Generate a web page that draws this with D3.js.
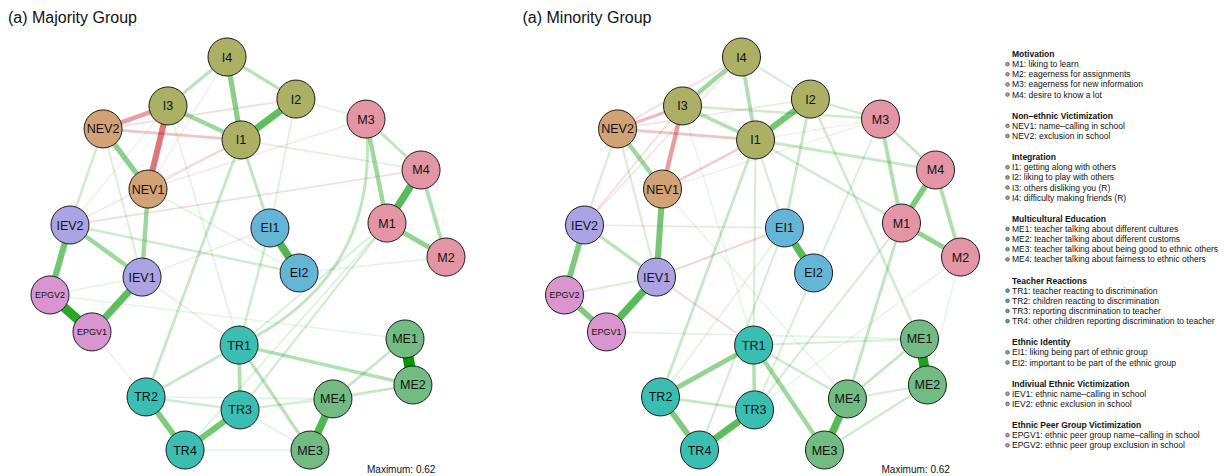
<!DOCTYPE html>
<html><head><meta charset="utf-8">
<script src="https://cdn.jsdelivr.net/npm/d3@7"></script>
<style>body{margin:0;background:#fff}svg{display:block}</style>
</head><body><svg id="c" width="1229" height="476"></svg>
<script>
// ---------------- DATA ----------------
const nodeIds   = ["M1","M2","M3","M4","NEV1","NEV2","I1","I2","I3","I4","ME1","ME2","ME3","ME4","TR1","TR2","TR3","TR4","EI1","EI2","IEV1","IEV2","EPGV1","EPGV2"];
const nodeGroup = [0,0,0,0,1,1,2,2,2,2,3,3,3,3,4,4,4,4,5,5,6,6,7,7];
// layout coordinates (same layout in both panels)
const layoutX = [0.702,1.0,0.596,0.874,-0.505,-0.732,-0.035,0.242,-0.404,-0.106,0.793,0.833,0.313,0.429,-0.045,-0.515,-0.040,-0.318,0.111,0.258,-0.535,-0.899,-0.788,-1.0];
const layoutY = [0.155,-0.018,0.684,0.425,0.328,0.634,0.578,0.786,0.751,1.0,-0.435,-0.669,-1.0,-0.740,-0.466,-0.730,-0.796,-1.0,0.130,-0.099,-0.120,0.145,-0.399,-0.211];

const groupNames  = ["Motivation","Non\u2013ethnic Victimization","Integration","Multicultural Education","Teacher Reactions","Ethnic Identity","Indiviual Ethnic Victimization","Ethnic Peer Group Victimization"];
const groupColors = ["#E495A5","#D2A277","#ABB065","#72BB83","#39BEB1","#64B5D6","#ACA4E2","#D995CF"];
const itemLabels = [
  ["M1: liking to learn","M2: eagerness for assignments","M3: eagerness for new information","M4: desire to know a lot"],
  ["NEV1: name\u2013calling in school","NEV2: exclusion in school"],
  ["I1: getting along with others","I2: liking to play with others","I3: others disliking you (R)","I4: difficulty making friends (R)"],
  ["ME1: teacher talking about different cultures","ME2: teacher talking about different customs","ME3: teacher talking about being good to ethnic others","ME4: teacher talking about fairness to ethnic others"],
  ["TR1: teacher reacting to discrimination","TR2: children reacting to discrimination","TR3: reporting discrimination to teacher","TR4: other children reporting discrimination to teacher"],
  ["EI1: liking being part of ethnic group","EI2: important to be part of the ethnic group"],
  ["IEV1: ethnic name\u2013calling in school","IEV2: ethnic exclusion in school"],
  ["EPGV1: ethnic peer group name\u2013calling in school","EPGV2: ethnic peer group exclusion in school"]
];

const panelTitles = ["(a) Majority Group","(a) Minority Group"];
const maxWeight = 0.62;

// edge lists: [from, to, partial correlation]
const edgesMajority = [
  ["ME1","ME2",0.62],["EPGV2","EPGV1",0.52],["EI1","EI2",0.42],["ME3","ME4",0.42],["M4","M1",0.40],
  ["I2","I1",0.38],["IEV1","EPGV1",0.38],["IEV2","EPGV2",0.33],["TR3","TR4",0.33],["TR2","TR4",0.30],
  ["I4","I1",0.27],["NEV2","NEV1",0.27],["M1","M2",0.25],["I3","I1",0.22],["IEV2","IEV1",0.22],
  ["M3","M1",0.22],["NEV1","IEV1",0.22],["M4","M2",0.18],["TR1","TR3",0.18],["TR1","ME2",0.17],
  ["I4","I3",0.15],["I4","I2",0.15],["TR1","ME3",0.15],["M3","M4",0.13],["I1","EI1",0.13],
  ["I1","TR2",0.12],["TR1","TR2",0.12],["ME4","ME1",0.12],["TR2","TR3",0.10],["IEV2","EI2",0.10],
  ["EI1","TR1",0.10],["ME4","ME2",0.10],["TR3","M1",0.09],["NEV2","IEV2",0.10],["NEV2","IEV1",0.07],
  ["M1","TR1",0.07],["TR4","M1",0.06],["I2","M3",0.05],["I1","M4",0.06],["I2","EI1",0.06],
  ["EPGV2","ME1",0.04],["EI2","M2",0.05],["ME4","TR3",0.06],["ME4","TR2",0.05],["ME3","TR3",0.05],
  ["TR4","ME3",0.04],["ME2","TR3",0.05],["NEV1","EI2",0.05],["I3","TR1",0.05],["EPGV2","IEV1",0.04],
  ["I3","NEV1",-0.32],["I3","NEV2",-0.22],["NEV2","I1",-0.12],["NEV1","I1",-0.06],["NEV2","I2",-0.06],
  ["IEV2","M4",-0.06],["NEV1","M3",-0.04],["IEV1","EI1",-0.04],["IEV1","TR1",-0.04],["EPGV1","TR2",-0.03],
  ["I4","NEV1",-0.03],["IEV2","I1",-0.04],["IEV2","I3",-0.03]
];
const curvedMajority = [["M3","TR1",0.13]];

const edgesMinority = [
  ["ME1","ME2",0.55],["IEV1","EPGV1",0.40],["EI1","EI2",0.40],["ME3","ME4",0.40],["TR3","TR4",0.38],
  ["I2","I1",0.33],["NEV1","IEV1",0.32],["M4","M1",0.30],["TR2","TR4",0.30],["IEV2","EPGV2",0.30],
  ["EPGV2","EPGV1",0.30],["M1","M2",0.25],["TR1","TR2",0.25],["I4","I3",0.22],["TR1","ME3",0.22],
  ["NEV2","NEV1",0.22],["I4","I1",0.18],["M3","M1",0.18],["M4","M2",0.18],["I3","I1",0.17],
  ["TR1","TR3",0.17],["IEV2","IEV1",0.15],["M3","M4",0.12],["I1","M4",0.12],["I3","M3",0.10],
  ["I2","M3",0.10],["I2","EI1",0.12],["I2","ME1",0.10],["I1","TR2",0.12],["I1","M1",0.10],
  ["M1","ME4",0.13],["TR2","TR3",0.12],["TR1","ME4",0.10],["TR1","ME1",0.08],["ME4","ME1",0.12],
  ["ME3","ME2",0.10],["ME4","ME2",0.08],["EPGV2","IEV1",0.07],["EPGV1","ME1",0.05],["NEV2","IEV2",0.08],
  ["NEV2","IEV1",0.08],["I1","EI1",0.08],["I1","TR1",0.08],["EI1","TR4",0.08],["M1","TR3",0.08],
  ["M3","TR3",0.07],["M2","TR4",0.04],["I4","I2",0.08],["I3","TR1",0.04],["M2","ME2",0.04],
  ["NEV1","ME4",0.04],["EI1","TR2",0.05],
  ["I3","NEV1",-0.22],["I3","NEV2",-0.15],["NEV2","I1",-0.12],["NEV1","I1",-0.10],["IEV1","EI1",-0.08],
  ["IEV1","TR1",-0.07],["I4","IEV2",-0.05],["I4","NEV2",-0.06],["I3","IEV2",-0.06],["IEV2","EI1",-0.05],
  ["NEV2","I2",-0.05],["I1","M3",-0.03],["NEV1","M3",-0.03]
];
const curvedMinority = [];

// ---------------- DRAWING ----------------
const svg = d3.select("#c");
const font = "'Liberation Sans', Arial, Helvetica, sans-serif";
const yScale = d3.scaleLinear().domain([1,-1]).range([57,450]);
const xScales = [
  d3.scaleLinear().domain([-1,1]).range([50,446]),
  d3.scaleLinear().domain([-1,1]).range([564.5,960.5])
];
const widthScale = d3.scaleLinear().domain([0,maxWeight]).range([0.8,11]).clamp(true);
const alphaScale = d3.scaleLinear().domain([0,maxWeight]).range([0.04,1]).clamp(true);
const posCol = "#009900", negCol = "#BF0000";
const idx = Object.fromEntries(nodeIds.map((d,i)=>[d,i]));

function drawPanel(p, edges, curved) {
  const xs = xScales[p];
  const g = svg.append("g");
  const all = edges.map(e=>({a:e[0],b:e[1],w:e[2],c:0}))
    .concat(curved.map(e=>({a:e[0],b:e[1],w:e[2],c:0.35})));
  all.sort((u,v)=>Math.abs(u.w)-Math.abs(v.w));
  g.selectAll("path.edge").data(all).join("path")
    .attr("class","edge")
    .attr("fill","none")
    .attr("stroke", d=>d.w>0?posCol:negCol)
    .attr("stroke-opacity", d=>alphaScale(Math.abs(d.w)))
    .attr("stroke-width", d=>widthScale(Math.abs(d.w)))
    .attr("d", d=>{
      const i=idx[d.a], j=idx[d.b];
      const x1=xs(layoutX[i]), y1=yScale(layoutY[i]), x2=xs(layoutX[j]), y2=yScale(layoutY[j]);
      const pth = d3.path();
      pth.moveTo(x1,y1);
      if (d.c) {
        const mx=(x1+x2)/2, my=(y1+y2)/2, dx=x2-x1, dy=y2-y1;
        pth.quadraticCurveTo(mx + d.c*dy, my - d.c*dx, x2, y2);
      } else pth.lineTo(x2,y2);
      return pth.toString();
    });
  const nodes = g.selectAll("g.node").data(nodeIds).join("g").attr("class","node")
    .attr("transform",(d,i)=>`translate(${xs(layoutX[i])},${yScale(layoutY[i])})`);
  nodes.append("circle").attr("r",19)
    .attr("fill",(d,i)=>groupColors[nodeGroup[i]])
    .attr("stroke","#1a1a1a").attr("stroke-width",1);
  nodes.append("text").text(d=>d)
    .attr("text-anchor","middle").attr("dy","0.36em")
    .attr("font-family",font)
    .attr("font-size",d=>d.length>4?9:12.5)
    .attr("fill","#111");
  svg.append("text").text(panelTitles[p])
    .attr("x", xs(-1)-42).attr("y",23)
    .attr("font-family",font).attr("font-size",16).attr("fill","#111");
  svg.append("text").text("Maximum: " + maxWeight.toFixed(2))
    .attr("x", xs(1)-79).attr("y",473)
    .attr("font-family",font).attr("font-size",10).attr("fill","#111");
}
drawPanel(0, edgesMajority, curvedMajority);
drawPanel(1, edgesMinority, curvedMinority);

// legend
const lg = svg.append("g");
let ly = 54;
groupNames.forEach((gname,gi)=>{
  lg.append("text").text(gname).attr("x",1012).attr("y",ly+3)
    .attr("font-family",font).attr("font-size",8.5).attr("font-weight","bold").attr("fill","#111");
  itemLabels[gi].forEach((lab,k)=>{
    const yy = ly + 10.15*(k+1);
    lg.append("circle").attr("cx",1007.5).attr("cy",yy).attr("r",1.8)
      .attr("fill",groupColors[gi]).attr("stroke","#222").attr("stroke-width",0.6);
    lg.append("text").text(lab).attr("x",1012).attr("y",yy+3)
      .attr("font-family",font).attr("font-size",8.5).attr("fill","#111");
  });
  ly += 10.15*itemLabels[gi].length + 21.1;
});
</script>
</body></html>
